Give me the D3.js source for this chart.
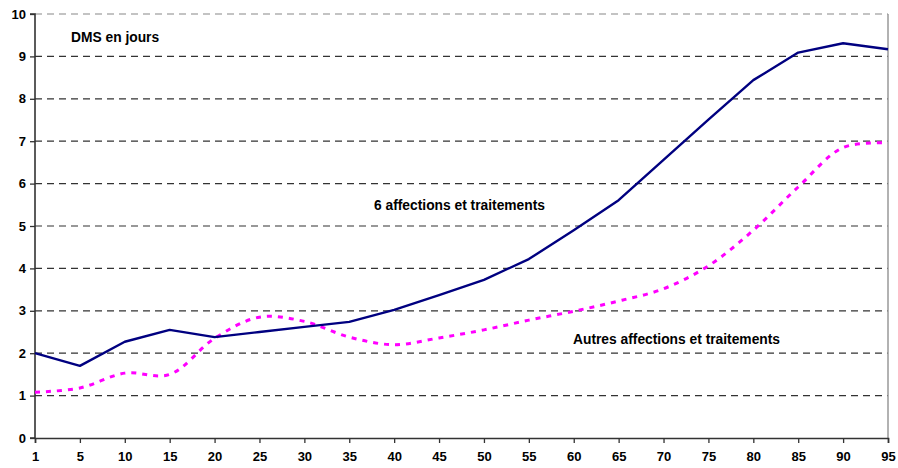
<!DOCTYPE html>
<html><head><meta charset="utf-8">
<script src="https://cdn.jsdelivr.net/npm/d3@7"></script>
<style>body{margin:0;background:#fff}svg{display:block}text{font-family:"Liberation Sans",Arial,sans-serif;font-weight:bold}</style>
</head><body><svg id="c" width="898" height="468"></svg>
<script>
const categories = ["1","5","10","15","20","25","30","35","40","45","50","55","60","65","70","75","80","85","90","95"];
const sixAffections = [2.0,1.70,2.27,2.55,2.38,2.50,2.62,2.74,3.02,3.37,3.73,4.22,4.90,5.61,6.56,7.51,8.44,9.09,9.31,9.17];
const autresAffections = [1.08,1.18,1.53,1.50,2.35,2.85,2.75,2.38,2.20,2.36,2.55,2.78,2.99,3.23,3.52,4.06,4.90,5.92,6.85,6.96];
const yTicks = [0,1,2,3,4,5,6,7,8,9,10];

const svg = d3.select("#c");
const L=35,R=888,T=14,B=438;
const x = d3.scalePoint().domain(categories).range([L,R]);
const y = d3.scaleLinear().domain([0,10]).range([B,T]);

// gridlines
svg.append("g").selectAll("line").data(yTicks.filter(d=>d>0)).join("line")
  .attr("x1",L).attr("x2",R).attr("y1",d=>y(d)).attr("y2",d=>y(d))
  .attr("stroke",d=>d===10?"#888":"#333").attr("stroke-width",1.2)
  .attr("stroke-dasharray","7,5");
// right border
svg.append("line").attr("x1",R).attr("x2",R).attr("y1",T).attr("y2",B).attr("stroke","#999").attr("stroke-width",1.5);

// axes
const yAxis = d3.axisLeft(y).tickValues(yTicks).tickSize(5).tickPadding(4).tickFormat(d3.format("d"));
const gy = svg.append("g").attr("transform",`translate(${L},0)`).call(yAxis);
const xAxis = d3.axisBottom(x).tickSize(5).tickPadding(9);
const gx = svg.append("g").attr("transform",`translate(0,${B})`).call(xAxis);
[gy,gx].forEach(g=>{
  g.select(".domain").attr("stroke","#333").attr("stroke-width",1.6);
  g.selectAll(".tick line").attr("stroke","#333").attr("stroke-width",1.3);
  g.selectAll("text").attr("font-size",13).attr("font-weight","bold").attr("fill","#000")
   .attr("font-family","Liberation Sans, Arial, sans-serif");
});
gy.select(".domain").attr("d",`M-5,${B}H0V${T}H-5`);

// lines
const line1 = d3.line().x((d,i)=>x(categories[i])).y(d=>y(d));
const line2 = d3.line().x((d,i)=>x(categories[i])).y(d=>y(d)).curve(d3.curveCatmullRom.alpha(0.5));
svg.append("path").datum(autresAffections).attr("d",line2).attr("fill","none")
  .attr("stroke","#FF00FF").attr("stroke-width",3).attr("stroke-dasharray","5,6");
svg.append("path").datum(sixAffections).attr("d",line1).attr("fill","none")
  .attr("stroke","#000080").attr("stroke-width",2.4).attr("stroke-linejoin","round");

// annotations
svg.append("text").attr("x",71).attr("y",42).attr("font-size",13.8).text("DMS en jours");
svg.append("text").attr("x",374).attr("y",210).attr("font-size",13.8).text("6 affections et traitements");
svg.append("text").attr("x",573).attr("y",344).attr("font-size",13.8).text("Autres affections et traitements");
</script></body></html>
